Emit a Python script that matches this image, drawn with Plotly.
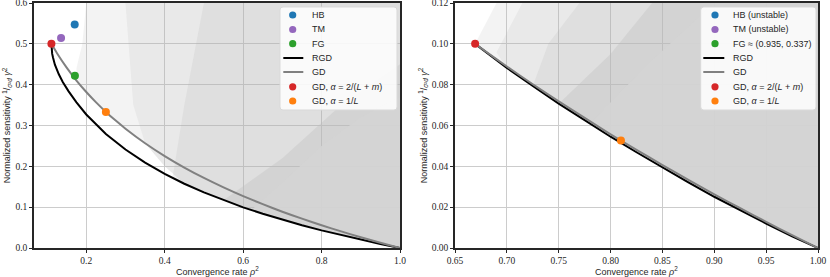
import plotly.graph_objects as go

# ---------------- data ----------------
# Left panel (kappa = 2)
L_gd_x = [0.1111, 0.125, 0.15, 0.175, 0.2, 0.225, 0.25, 0.275, 0.3, 0.35, 0.4, 0.45, 0.5, 0.55, 0.6, 0.65, 0.7, 0.75, 0.8, 0.85, 0.9, 0.95, 1.0]
L_gd_y = [0.5, 0.4776, 0.4417, 0.410, 0.382, 0.3566, 0.3333, 0.312, 0.2922, 0.2566, 0.2251, 0.197, 0.1716, 0.1484, 0.127, 0.1073, 0.0889, 0.0718, 0.0557, 0.0406, 0.0263, 0.0128, 0.0]
L_rgd_x = [0.1111, 0.112, 0.113, 0.115, 0.12, 0.13, 0.14, 0.155, 0.175, 0.2, 0.25, 0.3, 0.35, 0.4, 0.45, 0.5, 0.55, 0.6, 0.65, 0.7, 0.75, 0.8, 0.85, 0.9, 0.95, 1.0]
L_rgd_y = [0.5, 0.4836, 0.476, 0.467, 0.449, 0.4254, 0.4067, 0.3837, 0.3567, 0.327, 0.2793, 0.2411, 0.2091, 0.1814, 0.1574, 0.1361, 0.1169, 0.0996, 0.0838, 0.0692, 0.0558, 0.0432, 0.0315, 0.0204, 0.0099, 0.0]
L_hb = (0.1705, 0.5475)
L_tm = (0.1357, 0.514)
L_fg = (0.171, 0.4216)
L_gd_opt = (0.1111, 0.5)
L_gd_1L = (0.25, 0.3333)

# cloud of sampled algorithms: outlines of regions of increasing point density
L_cloud_1_x = [0.175, 0.19, 0.2, 1.0, 1.0, 0.9, 0.8, 0.7, 0.6, 0.5, 0.45, 0.4, 0.35, 0.3, 0.25, 0.2, 0.175]
L_cloud_1_y = [0.44, 0.5, 0.6, 0.6, 0.0, 0.0204, 0.0432, 0.0692, 0.0996, 0.1361, 0.1574, 0.2, 0.2566, 0.2922, 0.3333, 0.382, 0.41]
L_cloud_2_x = [0.3, 1.0, 1.0, 0.9, 0.8, 0.7, 0.6, 0.5, 0.45, 0.4, 0.35, 0.32]
L_cloud_2_y = [0.6, 0.6, 0.0, 0.0204, 0.0432, 0.0692, 0.0996, 0.1361, 0.1574, 0.2, 0.2566, 0.35]
L_cloud_3_x = [0.5, 1.0, 1.0, 0.9, 0.8, 0.7, 0.6, 0.5, 0.42, 0.45]
L_cloud_3_y = [0.6, 0.6, 0.0, 0.0204, 0.0432, 0.0692, 0.0996, 0.1361, 0.172, 0.35]
L_cloud_4_x = [0.55, 0.7, 0.85, 1.0, 1.0, 0.9, 0.8, 0.7, 0.6, 0.55]
L_cloud_4_y = [0.1169, 0.22, 0.35, 0.45, 0.0, 0.0204, 0.0432, 0.0692, 0.0996, 0.1169]
L_cloud_5_x = [0.62, 0.7, 0.8, 0.9, 1.0, 1.0, 0.9, 0.8, 0.7, 0.62]
L_cloud_5_y = [0.092, 0.16, 0.25, 0.32, 0.37, 0.0, 0.0204, 0.0432, 0.0692, 0.092]

# Right panel (kappa = 10)
R_gd_x = [0.6694, 0.68, 0.7, 0.725, 0.75, 0.775, 0.8, 0.825, 0.85, 0.875, 0.9, 0.925, 0.95, 0.975, 1.0]
R_gd_y = [0.1, 0.0961, 0.0889, 0.0802, 0.0718, 0.0637, 0.0557, 0.0481, 0.0406, 0.0334, 0.0263, 0.0195, 0.0128, 0.0063, 0.0]
R_rgd_x = [0.6694, 0.68, 0.7, 0.725, 0.75, 0.775, 0.8, 0.825, 0.85, 0.875, 0.9, 0.925, 0.95, 0.975, 1.0]
R_rgd_y = [0.1, 0.0958, 0.0882, 0.0794, 0.0707, 0.0626, 0.0545, 0.0469, 0.0394, 0.0322, 0.0251, 0.0184, 0.0120, 0.0057, 0.0]
R_fg = (0.935, 0.337)
R_gd_opt = (0.6694, 0.1)
R_gd_1L = (0.81, 0.0526)

R_cloud_1_x = [0.6694, 0.68, 0.69, 1.0, 1.0, 0.95, 0.9, 0.85, 0.8, 0.75, 0.7, 0.68, 0.6694]
R_cloud_1_y = [0.1, 0.11, 0.12, 0.12, 0.0, 0.012, 0.0251, 0.0394, 0.0545, 0.0707, 0.0882, 0.0958, 0.1]
R_cloud_2_x = [0.715, 1.0, 1.0, 0.95, 0.9, 0.85, 0.8, 0.75, 0.7, 0.69]
R_cloud_2_y = [0.12, 0.12, 0.0, 0.012, 0.0251, 0.0394, 0.0545, 0.0707, 0.0882, 0.0958]
R_cloud_3_x = [0.77, 1.0, 1.0, 0.95, 0.9, 0.85, 0.8, 0.75, 0.725, 0.74]
R_cloud_3_y = [0.12, 0.12, 0.0, 0.012, 0.0251, 0.0394, 0.0545, 0.0707, 0.0794, 0.1]
R_cloud_4_x = [0.75, 0.8, 0.84, 1.0, 1.0, 0.95, 0.9, 0.85, 0.8, 0.75]
R_cloud_4_y = [0.0707, 0.095, 0.12, 0.12, 0.0, 0.012, 0.0251, 0.0394, 0.0545, 0.0707]
R_cloud_5_x = [0.78, 0.84, 0.9, 1.0, 1.0, 0.95, 0.9, 0.85, 0.8, 0.78]
R_cloud_5_y = [0.0610, 0.092, 0.12, 0.12, 0.0, 0.012, 0.0251, 0.0394, 0.0545, 0.0610]

# legend entries
L_legend_names = ["HB", "TM", "FG", "RGD", "GD", "GD, <i>α</i> = 2/(<i>L</i> + <i>m</i>)", "GD, <i>α</i> = 1/<i>L</i>"]
R_legend_names = ["HB (unstable)", "TM (unstable)", "FG ≈ (0.935, 0.337)", "RGD", "GD",
                  "GD, <i>α</i> = 2/(<i>L</i> + <i>m</i>)", "GD, <i>α</i> = 1/<i>L</i>"]
x_title = "Convergence rate <i>ρ</i><sup>2</sup>"
y_title = "Normalized sensitivity <sup>1</sup>/<sub><i>σ</i>²<i>d</i></sub> <i>γ</i><sup>2</sup>"

# ---------------- styling ----------------
SERIF = "Liberation Serif"
SANS = "Liberation Sans"
INK = "#262626"
C_HB, C_TM, C_FG, C_RED, C_ORG = "#1f77b4", "#9467bd", "#2ca02c", "#d62728", "#ff7f0e"
C_RGD, C_GD = "black", "#808080"
legend_kinds = [("m", C_HB), ("m", C_TM), ("m", C_FG), ("l", C_RGD), ("l", C_GD), ("m", C_RED), ("m", C_ORG)]
cloud_colors = ["rgba(180,180,180,0.16)", "rgba(180,180,180,0.16)", "rgba(180,180,180,0.18)",
                "rgba(190,190,190,0.35)", "rgba(212,212,212,0.92)"]

fig = go.Figure()


def cloud(xs, ys, xa, ya, color):
    fig.add_trace(go.Scatter(x=xs, y=ys, xaxis=xa, yaxis=ya, mode="lines", line=dict(width=0),
                             fill="toself", fillcolor=color, hoverinfo="skip", showlegend=False))


def panel(xa, ya, gd_x, gd_y, rgd_x, rgd_y, pts):
    fig.add_trace(go.Scatter(x=rgd_x, y=rgd_y, xaxis=xa, yaxis=ya, mode="lines",
                             line=dict(color=C_RGD, width=2), showlegend=False))
    fig.add_trace(go.Scatter(x=gd_x, y=gd_y, xaxis=xa, yaxis=ya, mode="lines",
                             line=dict(color=C_GD, width=2, shape="spline", smoothing=0.6), showlegend=False))
    for p, c in pts:
        if p is None:
            continue
        fig.add_trace(go.Scatter(x=[p[0]], y=[p[1]], xaxis=xa, yaxis=ya, mode="markers",
                                 marker=dict(color=c, size=8), showlegend=False, cliponaxis=True))


L_clouds = [(L_cloud_1_x, L_cloud_1_y), (L_cloud_2_x, L_cloud_2_y), (L_cloud_3_x, L_cloud_3_y),
            (L_cloud_4_x, L_cloud_4_y), (L_cloud_5_x, L_cloud_5_y)]
R_clouds = [(R_cloud_1_x, R_cloud_1_y), (R_cloud_2_x, R_cloud_2_y), (R_cloud_3_x, R_cloud_3_y),
            (R_cloud_4_x, R_cloud_4_y), (R_cloud_5_x, R_cloud_5_y)]
for (cx, cy), col in zip(L_clouds, cloud_colors):
    cloud(cx, cy, "x", "y", col)
for (cx, cy), col in zip(R_clouds, cloud_colors):
    cloud(cx, cy, "x2", "y2", col)

panel("x", "y", L_gd_x, L_gd_y, L_rgd_x, L_rgd_y,
      [(L_hb, C_HB), (L_tm, C_TM), (L_fg, C_FG), (L_gd_opt, C_RED), (L_gd_1L, C_ORG)])
panel("x2", "y2", R_gd_x, R_gd_y, R_rgd_x, R_rgd_y,
      [(None, C_HB), (None, C_TM), (R_fg, C_FG), (R_gd_opt, C_RED), (R_gd_1L, C_ORG)])

# ---------------- layout geometry ----------------
W, H = 830, 277
ML, MR, MT, MB = 34, 12, 3, 29
PW, PH = W - ML - MR, H - MT - MB


def px(xp):
    return (xp - ML) / PW


def py(yp):
    return (H - MB - yp) / PH


shapes, annotations = [], []


def legend_box(x0, x1, y0, y1, sym_x, line_x0, line_x1, text_x, rows, names):
    r = 3
    rx, ry = r / PW, r / PH
    X0, X1, Y0, Y1 = px(x0), px(x1), py(y1), py(y0)
    path = (f"M{X0 + rx},{Y0} L{X1 - rx},{Y0} Q{X1},{Y0} {X1},{Y0 + ry} L{X1},{Y1 - ry} "
            f"Q{X1},{Y1} {X1 - rx},{Y1} L{X0 + rx},{Y1} Q{X0},{Y1} {X0},{Y1 - ry} L{X0},{Y0 + ry} "
            f"Q{X0},{Y0} {X0 + rx},{Y0} Z")
    shapes.append(dict(type="path", path=path, xref="paper", yref="paper", layer="above",
                       fillcolor="rgba(255,255,255,0.85)", line=dict(color="#d9d9d9", width=1)))
    for (kind, col), ry_, name in zip(legend_kinds, rows, names):
        if kind == "m":
            shapes.append(dict(type="circle", xref="paper", yref="paper", layer="above",
                               xsizemode="pixel", ysizemode="pixel", xanchor=px(sym_x), yanchor=py(ry_),
                               x0=-3.6, x1=3.6, y0=-3.6, y1=3.6, fillcolor=col, line=dict(width=0)))
        else:
            shapes.append(dict(type="line", xref="paper", yref="paper", layer="above",
                               x0=px(line_x0), x1=px(line_x1), y0=py(ry_), y1=py(ry_),
                               line=dict(color=col, width=2)))
        annotations.append(dict(text=name, xref="paper", yref="paper", x=px(text_x), y=py(ry_),
                                xanchor="left", yanchor="middle", showarrow=False,
                                font=dict(family=SANS, size=9, color=INK)))


rows = [15, 29.5, 43.7, 58, 72, 86.8, 101]
legend_box(280, 397, 7, 110, 292.7, 283.3, 303.3, 309.5, rows, L_legend_names)
legend_box(700.7, 816, 7, 110, 715, 703.3, 724.3, 730.5, rows, R_legend_names)

# x-axis titles placed under each panel
for cx in (217, 636.5):
    annotations.append(dict(text=x_title, xref="paper", yref="paper", x=px(cx), y=py(270.5),
                            xanchor="center", yanchor="middle", showarrow=False,
                            font=dict(family=SANS, size=9, color=INK)))

axis_common = dict(showline=True, linecolor=INK, linewidth=1.5, mirror=True, automargin=False,
                   showgrid=True, gridcolor="#cccccc", gridwidth=1, zeroline=False,
                   ticks="outside", ticklen=3, tickwidth=1, tickcolor=INK, ticklabeloverflow="allow",
                   tickfont=dict(family=SERIF, size=9.5, color=INK))
title_font = dict(family=SANS, size=9, color=INK)

fig.update_layout(
    width=W, height=H,
    margin=dict(l=ML, r=MR, t=MT, b=MB, autoexpand=False),
    plot_bgcolor="white", paper_bgcolor="white",
    showlegend=False,
    shapes=shapes, annotations=annotations,
    xaxis=dict(domain=[0, px(400)], range=[0.0667, 1.0], tickvals=[0.2, 0.4, 0.6, 0.8, 1.0], tickformat=".1f",
               **axis_common),
    yaxis=dict(range=[0, 0.6], dtick=0.1, tickformat=".1f",
               title=dict(text=y_title, font=title_font, standoff=3), **axis_common),
    xaxis2=dict(domain=[px(455), 1.0], range=[0.65, 1.0], dtick=0.05, tick0=0.65, tickformat=".2f", anchor="y2",
                **axis_common),
    yaxis2=dict(range=[0, 0.12], dtick=0.02, tickformat=".2f", anchor="x2",
                title=dict(text=y_title, font=title_font, standoff=3), **axis_common),
)

fig.write_html("out.html", config={"displayModeBar": False},
               post_script="document.body.style.margin='0';document.body.style.padding='0';")
